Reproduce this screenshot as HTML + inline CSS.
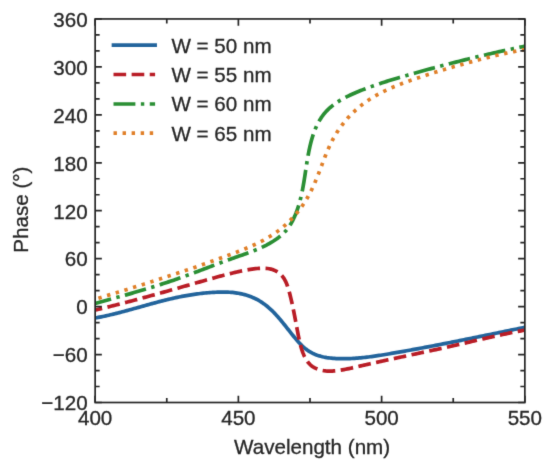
<!DOCTYPE html>
<html><head><meta charset="utf-8"><style>html,body{margin:0;padding:0;background:#fff;}svg{display:block;will-change:transform;}</style></head>
<body>
<svg width="550" height="467" viewBox="0 0 550 467">
<filter id="bl" x="0" y="0" width="550" height="467" filterUnits="userSpaceOnUse" color-interpolation-filters="sRGB"><feConvolveMatrix order="3" kernelMatrix="0.01134 0.08382 0.01134 0.08382 0.61935 0.08382 0.01134 0.08382 0.01134" edgeMode="duplicate"/></filter>
<g filter="url(#bl)">
<rect width="550" height="467" fill="#fff"/>
<defs><clipPath id="c"><rect x="95.15" y="18.95" width="429.70000000000005" height="383.55"/></clipPath></defs>
<g clip-path="url(#c)" fill="none" stroke-width="3.70">
<path d="M95.14,318.01 L96.68,317.73 L98.21,317.44 L99.74,317.14 L101.27,316.83 L102.79,316.51 L104.31,316.19 L105.83,315.86 L107.34,315.52 L108.85,315.18 L110.36,314.82 L111.86,314.47 L113.36,314.11 L114.86,313.74 L116.36,313.36 L117.86,312.99 L119.35,312.60 L120.84,312.22 L122.33,311.82 L123.81,311.43 L125.30,311.03 L126.78,310.63 L128.27,310.23 L129.75,309.82 L131.23,309.41 L132.71,309.00 L134.19,308.59 L135.67,308.18 L137.14,307.76 L138.62,307.35 L140.10,306.93 L141.58,306.52 L143.05,306.10 L144.53,305.69 L146.01,305.28 L147.49,304.87 L148.96,304.46 L150.44,304.05 L151.92,303.64 L153.40,303.24 L154.89,302.84 L156.37,302.44 L157.85,302.04 L159.34,301.65 L160.83,301.26 L162.32,300.88 L163.81,300.50 L165.30,300.13 L166.80,299.76 L168.29,299.40 L169.79,299.04 L171.30,298.69 L172.80,298.35 L174.31,298.01 L175.82,297.68 L177.33,297.35 L178.85,297.04 L180.37,296.73 L181.89,296.43 L183.42,296.14 L184.95,295.85 L186.48,295.58 L188.02,295.31 L189.55,295.06 L191.09,294.81 L192.63,294.57 L194.17,294.34 L195.71,294.13 L197.26,293.92 L198.80,293.72 L200.35,293.53 L201.89,293.35 L203.44,293.19 L204.98,293.03 L206.53,292.89 L208.08,292.75 L209.62,292.63 L211.17,292.52 L212.71,292.42 L214.25,292.34 L215.79,292.26 L217.33,292.20 L218.87,292.15 L220.40,292.12 L221.94,292.10 L223.47,292.09 L225.00,292.09 L226.52,292.12 L228.04,292.16 L229.56,292.23 L231.08,292.33 L232.59,292.46 L234.10,292.63 L235.60,292.82 L237.10,293.05 L238.60,293.30 L240.09,293.60 L241.58,293.92 L243.06,294.27 L244.53,294.66 L246.00,295.08 L247.46,295.53 L248.92,296.01 L250.36,296.53 L251.80,297.08 L253.22,297.68 L254.63,298.31 L256.02,298.99 L257.40,299.70 L258.76,300.46 L260.10,301.27 L261.42,302.11 L262.72,302.99 L264.00,303.89 L265.25,304.83 L266.48,305.80 L267.68,306.78 L268.87,307.79 L270.02,308.83 L271.16,309.88 L272.28,310.95 L273.38,312.04 L274.46,313.14 L275.52,314.26 L276.57,315.39 L277.60,316.53 L278.61,317.69 L279.61,318.85 L280.60,320.02 L281.58,321.19 L282.54,322.37 L283.50,323.56 L284.45,324.74 L285.39,325.94 L286.33,327.13 L287.27,328.33 L288.21,329.52 L289.15,330.72 L290.09,331.92 L291.05,333.12 L292.00,334.32 L292.97,335.52 L293.95,336.72 L294.94,337.91 L295.95,339.10 L296.97,340.29 L298.01,341.47 L299.08,342.64 L300.16,343.79 L301.26,344.92 L302.39,346.02 L303.54,347.09 L304.72,348.12 L305.92,349.09 L307.15,350.02 L308.41,350.89 L309.70,351.70 L311.01,352.45 L312.35,353.15 L313.72,353.80 L315.10,354.40 L316.51,354.94 L317.94,355.45 L319.38,355.90 L320.85,356.32 L322.32,356.69 L323.82,357.03 L325.32,357.32 L326.84,357.59 L328.36,357.82 L329.90,358.02 L331.44,358.19 L332.99,358.33 L334.54,358.44 L336.09,358.54 L337.65,358.61 L339.20,358.66 L340.76,358.70 L342.31,358.72 L343.86,358.72 L345.41,358.70 L346.96,358.68 L348.51,358.63 L350.05,358.58 L351.59,358.51 L353.14,358.42 L354.68,358.33 L356.21,358.22 L357.75,358.10 L359.29,357.96 L360.82,357.82 L362.35,357.67 L363.89,357.51 L365.42,357.34 L366.95,357.15 L368.48,356.97 L370.00,356.77 L371.53,356.56 L373.06,356.35 L374.58,356.14 L376.11,355.91 L377.63,355.68 L379.15,355.45 L380.67,355.21 L382.20,354.96 L383.72,354.72 L385.24,354.47 L386.76,354.22 L388.28,353.96 L389.80,353.70 L391.32,353.45 L392.84,353.19 L394.36,352.92 L395.88,352.66 L397.40,352.40 L398.91,352.13 L400.43,351.87 L401.95,351.60 L403.47,351.33 L404.99,351.06 L406.50,350.79 L408.02,350.51 L409.54,350.24 L411.06,349.96 L412.57,349.69 L414.09,349.41 L415.61,349.13 L417.12,348.85 L418.64,348.57 L420.15,348.29 L421.67,348.00 L423.19,347.72 L424.70,347.43 L426.22,347.15 L427.73,346.86 L429.25,346.57 L430.76,346.28 L432.27,345.99 L433.79,345.70 L435.30,345.41 L436.82,345.12 L438.33,344.82 L439.85,344.53 L441.36,344.23 L442.87,343.94 L444.39,343.64 L445.90,343.34 L447.41,343.04 L448.93,342.75 L450.44,342.45 L451.95,342.15 L453.46,341.85 L454.98,341.54 L456.49,341.24 L458.00,340.94 L459.51,340.64 L461.03,340.33 L462.54,340.03 L464.05,339.73 L465.56,339.42 L467.07,339.12 L468.58,338.81 L470.10,338.50 L471.61,338.20 L473.12,337.89 L474.63,337.59 L476.14,337.28 L477.65,336.97 L479.16,336.66 L480.68,336.35 L482.19,336.05 L483.70,335.74 L485.21,335.43 L486.72,335.12 L488.23,334.81 L489.74,334.50 L491.25,334.19 L492.76,333.89 L494.27,333.58 L495.79,333.27 L497.30,332.96 L498.81,332.65 L500.32,332.34 L501.83,332.03 L503.34,331.72 L504.85,331.41 L506.36,331.11 L507.87,330.80 L509.38,330.49 L510.89,330.18 L512.40,329.87 L513.91,329.56 L515.42,329.26 L516.94,328.95 L518.45,328.64 L519.96,328.34 L521.47,328.03 L522.98,327.73 L524.49,327.42 L526.00,327.12" stroke="#22649c" stroke-linecap="butt" stroke-linejoin="round"/>
<path d="M95.19,310.07 L96.84,309.68 L98.50,309.28 L100.16,308.89 L101.81,308.49 L103.47,308.09 L105.12,307.68 L106.78,307.28 L108.43,306.87 L110.09,306.46 L111.74,306.05 L113.40,305.63 L115.05,305.21 L116.70,304.79 L118.36,304.37 L120.01,303.95 L121.66,303.52 L123.32,303.09 L124.97,302.66 L126.62,302.23 L128.27,301.80 L129.92,301.36 L131.58,300.93 L133.23,300.49 L134.88,300.05 L136.53,299.61 L138.18,299.16 L139.83,298.72 L141.48,298.27 L143.13,297.82 L144.78,297.38 L146.43,296.93 L148.08,296.47 L149.72,296.02 L151.37,295.57 L153.02,295.11 L154.67,294.66 L156.31,294.20 L157.96,293.74 L159.61,293.28 L161.25,292.82 L162.90,292.36 L164.55,291.90 L166.19,291.44 L167.84,290.97 L169.48,290.51 L171.13,290.05 L172.77,289.58 L174.41,289.12 L176.06,288.65 L177.70,288.18 L179.34,287.72 L180.98,287.25 L182.63,286.78 L184.27,286.32 L185.91,285.85 L187.55,285.38 L189.19,284.91 L190.83,284.45 L192.47,283.98 L194.11,283.51 L195.75,283.04 L197.39,282.57 L199.03,282.11 L200.66,281.64 L202.30,281.17 L203.94,280.71 L205.58,280.24 L207.21,279.78 L208.85,279.32 L210.49,278.86 L212.13,278.40 L213.77,277.94 L215.41,277.49 L217.05,277.04 L218.69,276.59 L220.33,276.15 L221.98,275.72 L223.62,275.28 L225.27,274.86 L226.92,274.43 L228.57,274.02 L230.23,273.61 L231.89,273.20 L233.55,272.81 L235.21,272.42 L236.88,272.03 L238.54,271.66 L240.22,271.29 L241.89,270.93 L243.57,270.58 L245.25,270.25 L246.94,269.92 L248.63,269.62 L250.33,269.34 L252.03,269.09 L253.73,268.86 L255.44,268.67 L257.15,268.51 L258.87,268.39 L260.60,268.31 L262.32,268.28 L264.06,268.29 L265.79,268.37 L267.50,268.53 L269.20,268.78 L270.86,269.12 L272.49,269.59 L274.07,270.17 L275.60,270.87 L277.06,271.69 L278.46,272.61 L279.77,273.64 L281.00,274.76 L282.13,275.97 L283.15,277.27 L284.08,278.65 L284.93,280.09 L285.70,281.60 L286.39,283.16 L287.02,284.76 L287.61,286.39 L288.14,288.05 L288.64,289.73 L289.11,291.42 L289.56,293.10 L290.00,294.79 L290.42,296.47 L290.83,298.14 L291.23,299.81 L291.62,301.48 L291.99,303.15 L292.36,304.81 L292.72,306.47 L293.07,308.13 L293.41,309.79 L293.75,311.45 L294.08,313.11 L294.41,314.77 L294.73,316.42 L295.05,318.08 L295.36,319.74 L295.68,321.41 L295.99,323.07 L296.30,324.74 L296.61,326.41 L296.93,328.08 L297.24,329.75 L297.56,331.43 L297.88,333.12 L298.20,334.81 L298.54,336.50 L298.88,338.20 L299.23,339.89 L299.61,341.58 L300.00,343.26 L300.42,344.94 L300.87,346.60 L301.35,348.25 L301.87,349.88 L302.43,351.50 L303.04,353.09 L303.69,354.66 L304.39,356.21 L305.15,357.72 L305.97,359.21 L306.86,360.64 L307.83,362.03 L308.90,363.34 L310.07,364.56 L311.36,365.69 L312.77,366.72 L314.29,367.63 L315.87,368.42 L317.48,369.10 L319.09,369.67 L320.71,370.13 L322.34,370.49 L323.98,370.76 L325.62,370.95 L327.26,371.06 L328.91,371.11 L330.57,371.09 L332.23,371.03 L333.89,370.91 L335.56,370.76 L337.23,370.58 L338.90,370.36 L340.58,370.12 L342.26,369.85 L343.94,369.56 L345.62,369.25 L347.30,368.92 L348.99,368.57 L350.68,368.21 L352.37,367.84 L354.05,367.46 L355.74,367.08 L357.43,366.69 L359.12,366.30 L360.80,365.91 L362.49,365.52 L364.17,365.13 L365.86,364.75 L367.54,364.37 L369.22,363.99 L370.90,363.61 L372.58,363.24 L374.26,362.86 L375.94,362.49 L377.62,362.12 L379.29,361.75 L380.97,361.38 L382.64,361.02 L384.32,360.65 L385.99,360.29 L387.66,359.92 L389.34,359.56 L391.01,359.20 L392.68,358.84 L394.35,358.48 L396.02,358.12 L397.69,357.77 L399.36,357.41 L401.02,357.05 L402.69,356.70 L404.36,356.34 L406.03,355.98 L407.69,355.63 L409.36,355.27 L411.02,354.92 L412.69,354.56 L414.35,354.21 L416.02,353.86 L417.68,353.50 L419.34,353.15 L421.01,352.79 L422.67,352.43 L424.33,352.08 L425.99,351.72 L427.66,351.36 L429.32,351.01 L430.98,350.65 L432.64,350.29 L434.30,349.93 L435.96,349.57 L437.62,349.21 L439.29,348.84 L440.95,348.48 L442.61,348.11 L444.27,347.75 L445.93,347.38 L447.59,347.01 L449.25,346.64 L450.91,346.27 L452.57,345.89 L454.23,345.52 L455.90,345.14 L457.56,344.76 L459.22,344.38 L460.88,344.00 L462.54,343.61 L464.20,343.23 L465.87,342.85 L467.53,342.46 L469.19,342.08 L470.86,341.69 L472.52,341.30 L474.18,340.92 L475.85,340.53 L477.51,340.15 L479.18,339.76 L480.84,339.38 L482.51,339.00 L484.18,338.61 L485.84,338.23 L487.51,337.85 L489.18,337.48 L490.85,337.10 L492.51,336.73 L494.18,336.36 L495.85,335.99 L497.52,335.62 L499.20,335.26 L500.87,334.89 L502.54,334.54 L504.21,334.18 L505.89,333.83 L507.56,333.48 L509.24,333.14 L510.91,332.79 L512.59,332.46 L514.27,332.12 L515.95,331.80 L517.63,331.47 L519.31,331.15 L520.99,330.84 L522.67,330.53 L524.35,330.22 L526.04,329.92" stroke="#b91d26" stroke-dasharray="12.65,5.47" stroke-dashoffset="5.50" stroke-linecap="butt" stroke-linejoin="round"/>
<path d="M95.10,303.47 L96.90,302.98 L98.69,302.49 L100.48,302.00 L102.27,301.51 L104.05,301.02 L105.83,300.53 L107.61,300.03 L109.38,299.54 L111.16,299.05 L112.93,298.56 L114.69,298.07 L116.46,297.58 L118.22,297.08 L119.98,296.59 L121.74,296.09 L123.49,295.60 L125.25,295.10 L127.00,294.60 L128.75,294.10 L130.50,293.60 L132.24,293.10 L133.99,292.59 L135.73,292.08 L137.47,291.57 L139.21,291.06 L140.94,290.55 L142.68,290.03 L144.41,289.51 L146.14,288.98 L147.87,288.46 L149.60,287.93 L151.33,287.40 L153.06,286.86 L154.78,286.32 L156.51,285.78 L158.23,285.23 L159.95,284.68 L161.67,284.13 L163.39,283.57 L165.11,283.01 L166.83,282.44 L168.55,281.87 L170.27,281.30 L171.98,280.72 L173.70,280.13 L175.41,279.54 L177.13,278.94 L178.84,278.34 L180.56,277.74 L182.27,277.12 L183.99,276.51 L185.70,275.88 L187.41,275.26 L189.13,274.63 L190.84,274.00 L192.55,273.36 L194.27,272.72 L195.98,272.08 L197.69,271.43 L199.41,270.78 L201.12,270.13 L202.84,269.48 L204.55,268.83 L206.27,268.18 L207.98,267.53 L209.70,266.88 L211.42,266.22 L213.14,265.57 L214.86,264.92 L216.58,264.27 L218.30,263.63 L220.02,262.98 L221.74,262.34 L223.47,261.70 L225.19,261.06 L226.92,260.42 L228.65,259.79 L230.37,259.17 L232.10,258.54 L233.84,257.93 L235.57,257.31 L237.30,256.70 L239.04,256.10 L240.77,255.49 L242.50,254.89 L244.23,254.28 L245.96,253.67 L247.68,253.05 L249.40,252.42 L251.11,251.79 L252.81,251.14 L254.51,250.48 L256.20,249.80 L257.87,249.10 L259.54,248.39 L261.19,247.65 L262.83,246.90 L264.46,246.11 L266.07,245.31 L267.67,244.47 L269.25,243.60 L270.81,242.70 L272.35,241.77 L273.88,240.80 L275.38,239.79 L276.87,238.75 L278.33,237.66 L279.76,236.53 L281.18,235.35 L282.55,234.13 L283.88,232.86 L285.16,231.54 L286.38,230.17 L287.53,228.75 L288.61,227.28 L289.64,225.77 L290.62,224.23 L291.54,222.65 L292.41,221.05 L293.24,219.42 L294.02,217.78 L294.77,216.12 L295.47,214.44 L296.15,212.76 L296.78,211.08 L297.39,209.38 L297.97,207.68 L298.52,205.97 L299.04,204.26 L299.54,202.53 L300.01,200.81 L300.46,199.07 L300.88,197.33 L301.29,195.58 L301.68,193.82 L302.05,192.06 L302.41,190.29 L302.75,188.52 L303.07,186.74 L303.39,184.95 L303.70,183.16 L304.00,181.36 L304.29,179.56 L304.57,177.75 L304.85,175.94 L305.13,174.12 L305.41,172.29 L305.68,170.46 L305.96,168.63 L306.24,166.79 L306.53,164.95 L306.82,163.10 L307.12,161.25 L307.42,159.39 L307.74,157.54 L308.07,155.68 L308.41,153.83 L308.76,151.98 L309.13,150.13 L309.52,148.29 L309.93,146.46 L310.36,144.63 L310.80,142.82 L311.27,141.02 L311.77,139.23 L312.29,137.46 L312.84,135.71 L313.42,133.97 L314.02,132.25 L314.66,130.56 L315.33,128.88 L316.04,127.23 L316.78,125.61 L317.56,124.01 L318.37,122.44 L319.23,120.91 L320.13,119.40 L321.07,117.92 L322.06,116.48 L323.09,115.08 L324.17,113.71 L325.29,112.39 L326.47,111.10 L327.70,109.85 L328.96,108.64 L330.28,107.47 L331.63,106.33 L333.02,105.22 L334.45,104.15 L335.92,103.11 L337.42,102.10 L338.95,101.12 L340.50,100.17 L342.09,99.25 L343.70,98.35 L345.33,97.48 L346.98,96.63 L348.65,95.80 L350.34,95.00 L352.04,94.21 L353.75,93.45 L355.48,92.70 L357.21,91.97 L358.95,91.26 L360.69,90.56 L362.43,89.88 L364.18,89.21 L365.92,88.55 L367.66,87.90 L369.40,87.26 L371.13,86.63 L372.87,86.01 L374.60,85.40 L376.33,84.80 L378.07,84.21 L379.80,83.63 L381.52,83.05 L383.25,82.49 L384.98,81.93 L386.71,81.37 L388.44,80.83 L390.16,80.29 L391.89,79.76 L393.62,79.23 L395.34,78.71 L397.07,78.19 L398.80,77.67 L400.53,77.17 L402.26,76.66 L403.99,76.16 L405.72,75.66 L407.46,75.17 L409.19,74.67 L410.93,74.18 L412.67,73.69 L414.41,73.20 L416.15,72.72 L417.89,72.23 L419.64,71.75 L421.39,71.26 L423.14,70.78 L424.89,70.30 L426.64,69.82 L428.40,69.34 L430.16,68.86 L431.91,68.39 L433.67,67.91 L435.43,67.44 L437.20,66.97 L438.96,66.50 L440.73,66.03 L442.49,65.56 L444.26,65.10 L446.03,64.63 L447.80,64.17 L449.57,63.71 L451.34,63.25 L453.11,62.80 L454.89,62.34 L456.66,61.89 L458.44,61.44 L460.21,60.99 L461.99,60.54 L463.76,60.10 L465.54,59.65 L467.32,59.21 L469.10,58.77 L470.88,58.34 L472.66,57.90 L474.44,57.47 L476.22,57.04 L478.00,56.61 L479.78,56.19 L481.56,55.76 L483.34,55.34 L485.12,54.93 L486.90,54.51 L488.68,54.10 L490.46,53.69 L492.23,53.28 L494.01,52.87 L495.79,52.47 L497.57,52.07 L499.35,51.67 L501.13,51.28 L502.90,50.88 L504.68,50.50 L506.45,50.11 L508.23,49.73 L510.00,49.34 L511.78,48.97 L513.55,48.59 L515.32,48.22 L517.09,47.85 L518.86,47.49 L520.63,47.12 L522.40,46.77 L524.16,46.41 L525.93,46.06" stroke="#2a8f34" stroke-dasharray="21.89,5.47,3.42,5.47" stroke-dashoffset="5.30" stroke-linecap="butt" stroke-linejoin="round"/>
<path d="M95.17,299.22 L96.87,298.71 L98.56,298.19 L100.25,297.68 L101.94,297.17 L103.63,296.65 L105.31,296.14 L107.00,295.62 L108.69,295.11 L110.37,294.59 L112.05,294.08 L113.74,293.56 L115.42,293.04 L117.10,292.52 L118.78,292.01 L120.46,291.49 L122.14,290.97 L123.81,290.45 L125.49,289.93 L127.17,289.41 L128.84,288.89 L130.52,288.36 L132.19,287.84 L133.86,287.32 L135.53,286.79 L137.20,286.26 L138.87,285.74 L140.54,285.21 L142.21,284.68 L143.88,284.15 L145.55,283.62 L147.21,283.09 L148.88,282.56 L150.54,282.02 L152.21,281.49 L153.87,280.95 L155.54,280.42 L157.20,279.88 L158.86,279.34 L160.52,278.80 L162.18,278.26 L163.84,277.72 L165.50,277.17 L167.16,276.63 L168.82,276.08 L170.48,275.53 L172.14,274.98 L173.79,274.43 L175.45,273.88 L177.11,273.33 L178.76,272.77 L180.42,272.22 L182.07,271.66 L183.73,271.10 L185.38,270.54 L187.04,269.97 L188.69,269.41 L190.34,268.84 L192.00,268.28 L193.65,267.71 L195.30,267.14 L196.95,266.56 L198.60,265.99 L200.26,265.41 L201.91,264.83 L203.56,264.25 L205.21,263.67 L206.86,263.09 L208.51,262.50 L210.16,261.91 L211.81,261.32 L213.46,260.73 L215.11,260.13 L216.76,259.54 L218.41,258.94 L220.05,258.34 L221.70,257.74 L223.35,257.13 L225.00,256.52 L226.65,255.92 L228.30,255.30 L229.95,254.69 L231.59,254.07 L233.24,253.45 L234.89,252.83 L236.53,252.20 L238.17,251.56 L239.81,250.92 L241.45,250.28 L243.08,249.62 L244.71,248.95 L246.33,248.28 L247.95,247.60 L249.56,246.90 L251.17,246.19 L252.77,245.47 L254.36,244.74 L255.95,243.99 L257.53,243.23 L259.10,242.46 L260.65,241.66 L262.21,240.86 L263.75,240.03 L265.27,239.18 L266.79,238.32 L268.30,237.43 L269.80,236.53 L271.28,235.60 L272.75,234.66 L274.20,233.68 L275.65,232.69 L277.08,231.67 L278.49,230.63 L279.89,229.56 L281.27,228.46 L282.63,227.35 L283.98,226.20 L285.31,225.04 L286.62,223.85 L287.92,222.64 L289.19,221.41 L290.44,220.16 L291.67,218.89 L292.88,217.60 L294.07,216.29 L295.23,214.96 L296.38,213.61 L297.49,212.25 L298.59,210.87 L299.65,209.47 L300.70,208.06 L301.72,206.63 L302.72,205.19 L303.69,203.73 L304.64,202.26 L305.57,200.78 L306.48,199.28 L307.36,197.77 L308.23,196.25 L309.07,194.72 L309.89,193.19 L310.69,191.64 L311.47,190.08 L312.23,188.51 L312.97,186.94 L313.69,185.36 L314.40,183.77 L315.09,182.17 L315.77,180.57 L316.43,178.97 L317.08,177.36 L317.73,175.75 L318.36,174.13 L318.99,172.51 L319.62,170.89 L320.23,169.27 L320.85,167.64 L321.46,166.02 L322.08,164.39 L322.69,162.77 L323.31,161.14 L323.93,159.52 L324.56,157.90 L325.20,156.29 L325.84,154.67 L326.50,153.07 L327.17,151.46 L327.85,149.86 L328.55,148.27 L329.27,146.68 L330.00,145.10 L330.76,143.53 L331.54,141.96 L332.34,140.40 L333.16,138.86 L334.02,137.32 L334.90,135.79 L335.80,134.27 L336.73,132.77 L337.68,131.28 L338.66,129.80 L339.66,128.34 L340.69,126.89 L341.74,125.46 L342.81,124.05 L343.90,122.65 L345.01,121.28 L346.15,119.92 L347.31,118.58 L348.48,117.27 L349.68,115.98 L350.90,114.71 L352.13,113.46 L353.39,112.24 L354.66,111.04 L355.95,109.86 L357.26,108.70 L358.58,107.56 L359.92,106.45 L361.28,105.36 L362.66,104.29 L364.05,103.25 L365.45,102.22 L366.87,101.22 L368.30,100.24 L369.75,99.29 L371.21,98.35 L372.69,97.44 L374.17,96.55 L375.67,95.68 L377.18,94.82 L378.70,93.99 L380.24,93.18 L381.78,92.38 L383.33,91.60 L384.89,90.83 L386.47,90.09 L388.05,89.35 L389.64,88.63 L391.23,87.93 L392.84,87.24 L394.45,86.56 L396.07,85.89 L397.69,85.23 L399.33,84.58 L400.96,83.95 L402.60,83.32 L404.25,82.71 L405.90,82.10 L407.56,81.50 L409.21,80.90 L410.88,80.32 L412.54,79.74 L414.21,79.16 L415.87,78.60 L417.54,78.03 L419.21,77.47 L420.88,76.92 L422.56,76.37 L424.23,75.82 L425.90,75.28 L427.57,74.74 L429.25,74.20 L430.92,73.67 L432.60,73.14 L434.28,72.61 L435.95,72.09 L437.63,71.57 L439.31,71.06 L440.99,70.55 L442.67,70.04 L444.35,69.53 L446.03,69.03 L447.72,68.53 L449.40,68.03 L451.08,67.54 L452.77,67.05 L454.45,66.56 L456.14,66.08 L457.83,65.60 L459.51,65.12 L461.20,64.64 L462.89,64.17 L464.58,63.70 L466.27,63.23 L467.96,62.76 L469.65,62.30 L471.34,61.84 L473.04,61.38 L474.73,60.92 L476.43,60.47 L478.12,60.02 L479.82,59.57 L481.51,59.13 L483.21,58.69 L484.91,58.25 L486.61,57.82 L488.31,57.39 L490.01,56.97 L491.71,56.55 L493.41,56.13 L495.11,55.73 L496.82,55.32 L498.52,54.93 L500.23,54.53 L501.93,54.15 L503.64,53.77 L505.34,53.39 L507.05,53.03 L508.76,52.67 L510.47,52.31 L512.18,51.97 L513.89,51.63 L515.60,51.30 L517.31,50.97 L519.02,50.66 L520.74,50.35 L522.45,50.05 L524.17,49.76 L525.88,49.48" stroke="#e07f28" stroke-dasharray="3.42,5.64" stroke-dashoffset="5.70" stroke-linecap="butt" stroke-linejoin="round"/>
</g>
<rect x="95.15" y="18.95" width="429.70000000000005" height="383.55" fill="none" stroke="#262626" stroke-width="1.7"/>
<path d="M95.15,402.50h6.7M524.85,402.50h-6.7M95.15,386.52h4.5M524.85,386.52h-4.5M95.15,370.54h4.5M524.85,370.54h-4.5M95.15,354.56h6.7M524.85,354.56h-6.7M95.15,338.57h4.5M524.85,338.57h-4.5M95.15,322.59h4.5M524.85,322.59h-4.5M95.15,306.61h6.7M524.85,306.61h-6.7M95.15,290.63h4.5M524.85,290.63h-4.5M95.15,274.65h4.5M524.85,274.65h-4.5M95.15,258.67h6.7M524.85,258.67h-6.7M95.15,242.69h4.5M524.85,242.69h-4.5M95.15,226.71h4.5M524.85,226.71h-4.5M95.15,210.72h6.7M524.85,210.72h-6.7M95.15,194.74h4.5M524.85,194.74h-4.5M95.15,178.76h4.5M524.85,178.76h-4.5M95.15,162.78h6.7M524.85,162.78h-6.7M95.15,146.80h4.5M524.85,146.80h-4.5M95.15,130.82h4.5M524.85,130.82h-4.5M95.15,114.84h6.7M524.85,114.84h-6.7M95.15,98.86h4.5M524.85,98.86h-4.5M95.15,82.88h4.5M524.85,82.88h-4.5M95.15,66.89h6.7M524.85,66.89h-6.7M95.15,50.91h4.5M524.85,50.91h-4.5M95.15,34.93h4.5M524.85,34.93h-4.5M95.15,18.95h6.7M524.85,18.95h-6.7M95.15,402.5v-6.7M95.15,18.95v6.7M166.77,402.5v-4.5M166.77,18.95v4.5M238.38,402.5v-6.7M238.38,18.95v6.7M310.00,402.5v-4.5M310.00,18.95v4.5M381.62,402.5v-6.7M381.62,18.95v6.7M453.23,402.5v-4.5M453.23,18.95v4.5M524.85,402.5v-6.7M524.85,18.95v6.7" stroke="#262626" stroke-width="1.7" fill="none"/>
<g font-family="Liberation Sans, sans-serif" font-size="20.6" fill="#262626" stroke="#262626" stroke-width="0.3">
<text x="87.6" y="410.30" text-anchor="end">−120</text>
<text x="87.6" y="362.36" text-anchor="end">−60</text>
<text x="87.6" y="314.41" text-anchor="end">0</text>
<text x="87.6" y="266.47" text-anchor="end">60</text>
<text x="87.6" y="218.53" text-anchor="end">120</text>
<text x="87.6" y="170.58" text-anchor="end">180</text>
<text x="87.6" y="122.64" text-anchor="end">240</text>
<text x="87.6" y="74.69" text-anchor="end">300</text>
<text x="87.6" y="26.75" text-anchor="end">360</text>
<text x="95.15" y="425.45" text-anchor="middle">400</text>
<text x="238.38" y="425.45" text-anchor="middle">450</text>
<text x="381.62" y="425.45" text-anchor="middle">500</text>
<text x="524.85" y="425.45" text-anchor="middle">550</text>
<text x="312.1" y="454.2" text-anchor="middle">Wavelength (nm)</text>
<text transform="translate(27.8,209.6) rotate(-90)" text-anchor="middle">Phase (°)</text>
<path d="M113.5,45.2H155.1" stroke="#22649c" stroke-width="3.7" stroke-linecap="square" fill="none"/>
<text x="171.4" y="52.6">W = 50 nm</text>
<path d="M113.5,74.5H155.1" stroke="#b91d26" stroke-width="3.7" stroke-linecap="butt" stroke-dasharray="12.65,5.47" fill="none"/>
<text x="171.4" y="81.9">W = 55 nm</text>
<path d="M113.5,104H155.1" stroke="#2a8f34" stroke-width="3.7" stroke-linecap="butt" stroke-dasharray="21.89,5.47,3.42,5.47" fill="none"/>
<text x="171.4" y="111.4">W = 60 nm</text>
<path d="M113.5,133.2H155.1" stroke="#e07f28" stroke-width="3.7" stroke-linecap="butt" stroke-dasharray="3.42,5.64" fill="none"/>
<text x="171.4" y="140.6">W = 65 nm</text>
</g>
</g>
</svg>
</body></html>
